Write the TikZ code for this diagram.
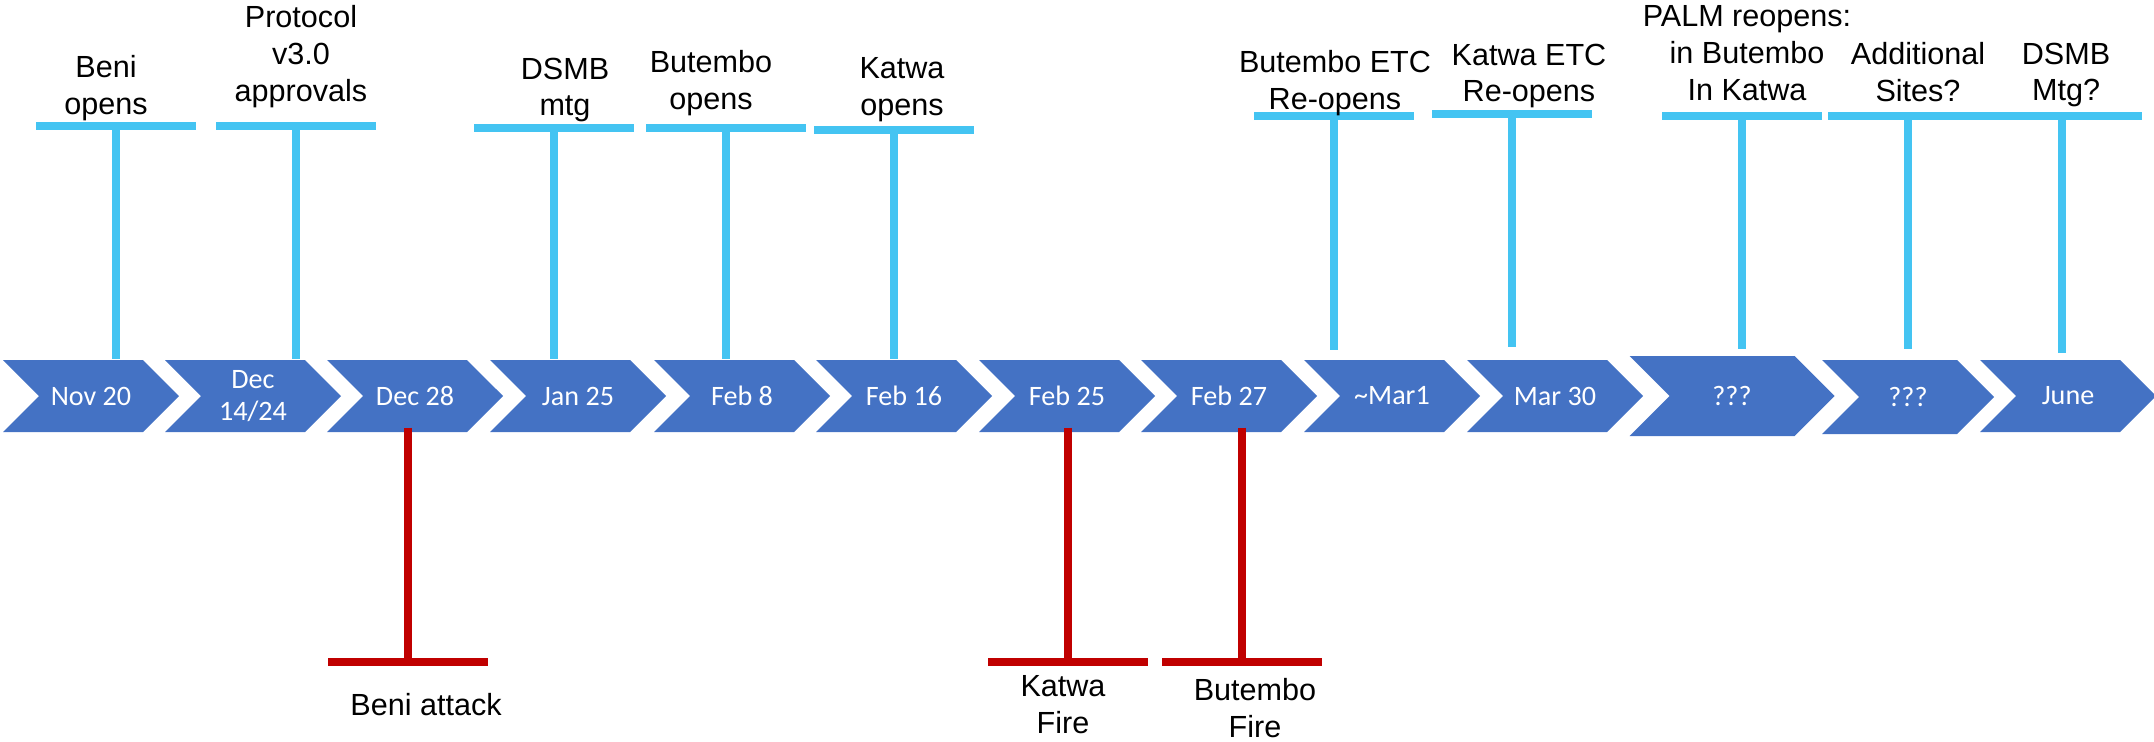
\documentclass[tikz,border=0pt]{standalone}
\usepackage{fontspec}
\setmainfont{Liberation Sans}
\newfontfamily\calibfont{Carlito}
\usetikzlibrary{shapes.symbols}
\definecolor{chevblue}{HTML}{4472C4}
\definecolor{skyblue}{HTML}{44C4F2}
\definecolor{firered}{HTML}{C00000}
\tikzset{
    chev/.style={signal, signal from=west, signal to=east, signal pointer angle=90,
        fill=chevblue, inner sep=0pt, minimum width=17.6mm, minimum height=7.2mm,
        text=white, align=center, font=\calibfont\fontsize{8}{9.1}\selectfont},
    lbl/.style={anchor=north, inner sep=0pt, align=center, font=\fontsize{8.7}{10.5}\selectfont},
    bluestem/.style={skyblue, line width=2.2pt},
    redstem/.style={firered, line width=2.1pt}
}
\begin{document}
\begin{tikzpicture}[x=0.1mm, y=-0.1mm]
    \useasboundingbox (0, 0) rectangle (2154, 741);

    \foreach \n/\x/\y in {1/116/126, 2/296/126, 3/554/128, 4/726/128, 5/894/130,
        6/1334/116, 7/1512/114, 8/1742/116, 9/1908/116, 10/2062/116}{
            \coordinate (top\n) at (\x, \y);
            \draw[bluestem] (\x - 80, \y) to (\x + 80, \y);
        }

    \foreach \n/\x/\t in {1/91/Nov 20, 2/253/{Dec\\14/24}, 3/415/Dec 28, 4/578/Jan 25,
        5/742/Feb 8, 6/904/Feb 16, 7/1067/Feb 25, 8/1229/Feb 27,
        9/1392/\textasciitilde Mar1, 10/1555/Mar 30, 13/2068/June}{
            \node[chev] (c\n) at (\x, 396) {\t};
        }
    \node[chev, minimum width=20.5mm, minimum height=8mm] (c11) at (1732, 396) {???};
    \node[chev, minimum width=17.2mm, minimum height=7.4mm] (c12) at (1908, 397) {???};

    \foreach \n/\c/\g in {1/1/0, 2/2/0, 3/4/0, 4/5/0, 5/6/0,
        6/9/9, 7/10/12, 8/11/6, 9/12/10, 10/13/6}{
            \draw[bluestem] (top\n) to ([yshift=\g*0.1mm]c\c.north -| top\n);
        }

    \foreach \n/\x/\c in {1/408/3, 2/1068/7, 3/1242/8}{
            \coordinate (bot\n) at (\x, 662);
            \draw[redstem] ([yshift=0.5mm]c\c.south -| bot\n) to (bot\n);
            \draw[redstem] (\x - 80, 662) to (\x + 80, 662);
        }

    \node[lbl] (l1) at (106, 55) {Beni\\opens};
    \node[lbl] (l2) at (301, 5) {Protocol\\v3.0\\approvals};
    \node[lbl] (l3) at (565, 57) {DSMB\\mtg};
    \node[lbl] (l4) at (711, 50) {Butembo\\opens};
    \node[lbl] (l5) at (902, 57) {Katwa\\opens};
    \node[lbl] (l6) at (1335, 50) {Butembo ETC\\Re-opens};
    \node[lbl] (l7) at (1529, 43) {Katwa ETC\\Re-opens};
    \node[lbl] (l8) at (1747, 5) {PALM reopens:\\in Butembo\\In Katwa};
    \node[lbl] (l9) at (1918, 42) {Additional\\Sites?};
    \node[lbl] (l10) at (2066, 42) {DSMB\\Mtg?};
    \node[lbl] (l11) at (426, 693) {Beni attack};
    \node[lbl] (l12) at (1063, 675) {Katwa\\Fire};
    \node[lbl] (l13) at (1255, 678) {Butembo\\Fire};
\end{tikzpicture}
\end{document}
